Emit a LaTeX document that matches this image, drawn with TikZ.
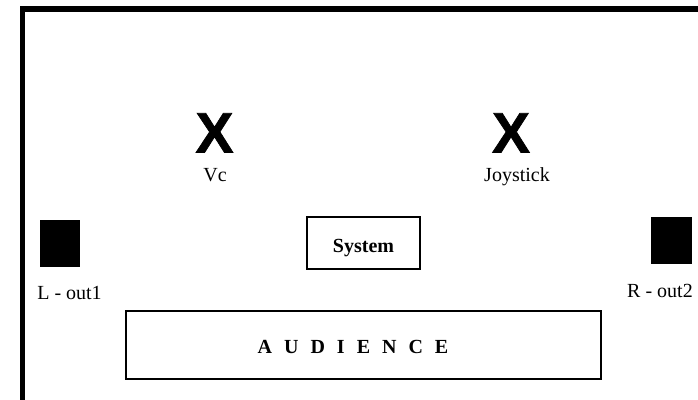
\documentclass[tikz,border=0pt]{standalone}
\usepackage{fontspec}
\setmainfont{Liberation Serif}
\newfontfamily\xfont[BoldFeatures={FakeBold=1.2}]{Liberation Sans}
\begin{document}
\begin{tikzpicture}[x=1pt,y=-1pt,
  lbl/.style={font=\fontsize{20}{22}\selectfont, inner sep=0pt, anchor=base},
  xmark/.style={font=\xfont\bfseries\fontsize{57}{60}\selectfont, inner sep=0pt, anchor=base},
  speaker/.style={fill=black, draw=black, line width=0.5pt},
  boxed/.style={draw=black, fill=white}]
\useasboundingbox (0,0) rectangle (698,399);
\clip (0,0) rectangle (698,399);
% frame
\draw[line width=5.5pt] (22.5,420) -- (22.5,9) -- (720,9);
% X marks
\node[xmark] (vcx) at (214.5,152.5) {X};
\node[xmark] (jsx) at (511,152.5) {X};
\node[lbl] (vc) at (215,181) {Vc};
\node[lbl] (js) at (517,181) {Joystick};
% speakers
\draw[speaker] (40,220) rectangle (79,266);
\node (lsp) at (59.5,243) {};
\draw[speaker] (651,217) rectangle (691,263);
\node (rsp) at (671,240) {};
\node[lbl] (lout) at (69.5,299) {L - out1};
\node[lbl] (rout) at (660,297) {R - out2};
% system
\draw[boxed, line width=2.5pt] (307,217) rectangle (420,269);
\node[lbl, font=\bfseries\fontsize{20}{22}\selectfont] (sys) at (363.5,252) {System};
% audience
\draw[boxed, line width=2pt] (126,311) rectangle (601,379);
\node[lbl, font=\bfseries\fontsize{20}{22}\selectfont] (aud) at (353,353)
  {A\hspace{12pt}U\hspace{12pt}D\hspace{12pt}I\hspace{12pt}E\hspace{12pt}N\hspace{12pt}C\hspace{12pt}E};
\end{tikzpicture}
\end{document}
